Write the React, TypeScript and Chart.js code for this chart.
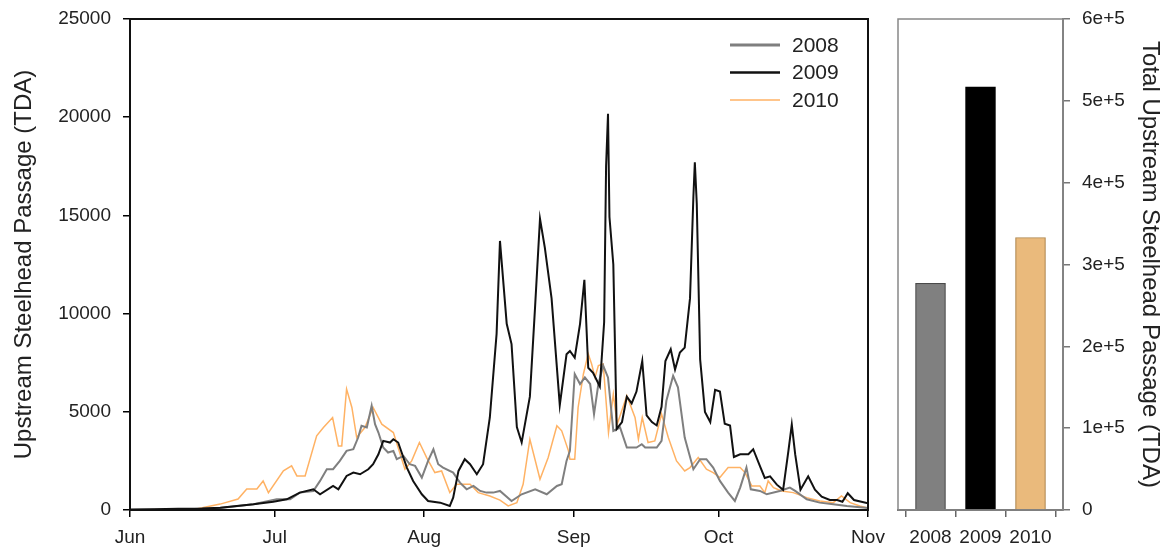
import React, { useEffect, useRef } from "react";
import { Chart, registerables } from "chart.js";

Chart.register(...registerables);

const FONT = '"Liberation Sans", Arial, Helvetica, sans-serif';

// Month ticks (day index from June 1)
const monthTicks = [0, 30, 61, 92, 122, 153];
const monthLabels = ["Jun", "Jul", "Aug", "Sep", "Oct", "Nov"];

// Daily passage, x = day since June 1
const days2008 = [0, 6, 12, 18.7, 25.6, 30.4, 33.2, 35.2, 38.0, 39.4, 40.8, 42.1, 43.5, 44.9, 46.3, 47.3, 48.0, 49.1, 50.1, 50.8, 51.5, 52.5, 53.5, 54.6, 55.3, 56.7, 58.0, 59.1, 60.5, 61.8, 62.9, 63.9, 64.9, 67.0, 68.4, 69.8, 71.2, 72.6, 73.9, 75.3, 76.7, 79.1, 81.2, 84.0, 86.4, 88.5, 89.5, 90.5, 91.2, 92.2, 93.3, 94.3, 95.4, 96.2, 97.1, 98.1, 99.1, 100.2, 101.6, 103.0, 105.0, 106.1, 106.8, 109.2, 110.2, 111.2, 112.6, 113.6, 115.0, 116.8, 118.2, 119.5, 120.9, 122.3, 124.0, 125.4, 126.5, 127.8, 128.7, 130.6, 132.0, 134.7, 136.8, 137.9, 140.3, 143.0, 145.8, 148.6, 153];
const pass2008 = [0, 20, 40, 100, 290, 545, 545, 885, 970, 1480, 2075, 2075, 2500, 3010, 3095, 3690, 4285, 4200, 5305, 4370, 3945, 3180, 2925, 3010, 2585, 2755, 2330, 2245, 1650, 2500, 3095, 2330, 2160, 1905, 1395, 1055, 1225, 970, 885, 885, 970, 460, 800, 1055, 800, 1225, 1310, 2500, 3010, 6925, 6415, 6750, 6415, 4880, 6415, 7350, 6750, 4030, 4200, 3180, 3180, 3350, 3180, 3180, 3520, 5560, 6835, 6245, 3690, 2075, 2585, 2585, 2160, 1480, 885, 460, 1140, 2160, 1055, 970, 800, 970, 1140, 970, 545, 375, 290, 205, 100];

const days2009 = [0, 5, 10, 15, 18.7, 25.6, 29.7, 32.5, 35.2, 38.0, 39.4, 42.1, 43.2, 44.9, 46.3, 47.7, 49.4, 50.4, 51.5, 52.5, 53.9, 54.6, 55.6, 57.4, 58.7, 60.5, 61.8, 64.3, 66.3, 67.0, 68.1, 69.4, 70.5, 71.9, 73.2, 74.6, 76.0, 76.7, 78.1, 79.1, 80.2, 81.2, 82.9, 84.0, 85.0, 86.0, 87.4, 89.1, 90.5, 91.2, 92.2, 93.3, 94.2, 95.0, 96.0, 97.4, 98.3, 98.7, 99.1, 99.4, 100.2, 100.9, 102.0, 103.0, 104.0, 105.0, 106.2, 107.1, 108.2, 109.2, 110.2, 111.0, 112.1, 113.0, 114.0, 115.0, 116.1, 116.8, 117.1, 117.5, 118.2, 119.2, 120.3, 121.3, 122.3, 123.3, 124.4, 125.2, 126.5, 128.2, 129.2, 130.6, 131.6, 132.7, 134.1, 135.4, 136.5, 137.2, 137.9, 139.0, 140.6, 142.0, 143.4, 145.1, 146.6, 147.7, 148.8, 150.1, 153];
const pass2009 = [20, 40, 60, 80, 120, 290, 425, 545, 885, 1055, 800, 1225, 1055, 1735, 1905, 1820, 2075, 2330, 2840, 3520, 3435, 3605, 3435, 2160, 1480, 800, 460, 375, 205, 630, 1990, 2585, 2330, 1820, 2330, 4710, 8965, 13700, 9480, 8445, 4220, 3440, 5770, 10430, 14830, 13360, 10775, 5340, 7930, 8100, 7755, 9480, 11720, 7240, 6980, 6290, 9570, 17500, 20180, 14920, 12500, 4130, 4480, 5770, 5425, 6030, 7585, 4820, 4480, 4305, 5255, 7585, 8185, 7150, 8015, 8270, 10775, 15950, 17710, 15605, 7670, 4995, 4480, 6115, 6030, 4390, 4305, 2700, 2840, 2840, 3095, 2235, 1630, 1715, 1290, 1030, 3010, 4350, 2840, 1030, 1715, 1030, 680, 510, 510, 420, 855, 510, 340];

const days2010 = [0, 8, 14, 18.7, 22.4, 24.2, 26.3, 27.6, 28.7, 31.8, 33.5, 34.6, 36.3, 38.7, 40.1, 42.0, 43.2, 43.9, 44.9, 46.0, 47.0, 48.7, 50.4, 52.2, 54.6, 57.0, 58.4, 60.0, 61.5, 63.2, 64.6, 66.3, 67.7, 70.5, 72.2, 74.6, 76.7, 78.4, 80.2, 81.5, 82.9, 85.0, 86.7, 88.5, 89.5, 90.9, 91.2, 92.2, 92.9, 94.0, 95.0, 95.7, 96.4, 97.1, 98.1, 99.2, 100.2, 101.0, 103.0, 104.7, 105.4, 106.2, 107.4, 108.8, 110.2, 111.6, 113.3, 115.0, 116.1, 117.8, 119.5, 120.9, 122.3, 124.0, 126.5, 127.5, 128.9, 130.6, 131.6, 132.3, 133.4, 135.1, 137.5, 140.3, 143.0, 145.8, 147.5, 149.3, 151.3, 153];
const pass2010 = [0, 20, 60, 300, 560, 1070, 1070, 1480, 885, 1990, 2245, 1735, 1735, 3775, 4200, 4710, 3265, 3265, 6160, 5220, 3690, 4200, 5220, 4370, 3945, 2075, 2500, 3435, 2670, 1905, 1990, 885, 1310, 1310, 885, 715, 500, 205, 375, 1310, 3605, 1565, 2670, 4285, 4030, 3010, 2585, 2585, 5220, 6925, 7945, 7435, 6750, 7350, 7435, 3945, 5900, 4370, 5815, 4710, 3605, 4710, 3435, 3520, 4880, 3690, 2500, 1990, 2160, 2670, 2075, 1905, 1650, 2160, 2160, 1905, 1225, 1225, 885, 1480, 1140, 970, 885, 630, 460, 375, 715, 375, 205, 100];

// Seasonal totals
const barYears = ["2008", "2009", "2010"];
const barTotals = [277000, 517000, 333000];

const seriesLabels = ["2008", "2009", "2010"];

const toPoints = (d: number[], v: number[]) => d.map((x, i) => ({ x, y: v[i] }));

const noPad = (s: any) => {
  s.paddingTop = 0;
  s.paddingBottom = 0;
  s.paddingLeft = 0;
  s.paddingRight = 0;
};

const framePlugin = (color: string, width: number) => ({
  id: "frame",
  afterDraw(chart: any) {
    const { ctx, chartArea: a } = chart;
    ctx.save();
    ctx.strokeStyle = color;
    ctx.lineWidth = width;
    ctx.strokeRect(a.left, a.top, a.right - a.left, a.bottom - a.top);
    ctx.restore();
  },
});

const legendPlugin = {
  id: "insideLegend",
  afterDraw(chart: any) {
    const { ctx, chartArea: a } = chart;
    const x0 = a.right - 138;
    ctx.save();
    ctx.font = `21px ${FONT}`;
    ctx.textBaseline = "middle";
    ctx.textAlign = "left";
    chart.data.datasets.forEach((ds: any, i: number) => {
      const y = a.top + 26 + i * 27.5;
      ctx.strokeStyle = ds.borderColor;
      ctx.lineWidth = ds.legendWidth;
      ctx.beginPath();
      ctx.moveTo(x0, y);
      ctx.lineTo(x0 + 50, y);
      ctx.stroke();
      ctx.fillStyle = "#222";
      ctx.fillText(ds.label, x0 + 62, y + 1);
    });
    ctx.restore();
  },
};

function LineChart() {
  const ref = useRef<HTMLCanvasElement>(null);
  useEffect(() => {
    if (!ref.current) return;
    const chart = new Chart(ref.current, {
      type: "line",
      data: {
        datasets: [
          { label: seriesLabels[0], data: toPoints(days2008, pass2008), borderColor: "#7f7f7f", borderWidth: 2, pointRadius: 0, tension: 0, order: 1, legendWidth: 3 } as any,
          { label: seriesLabels[1], data: toPoints(days2009, pass2009), borderColor: "#111111", borderWidth: 2, pointRadius: 0, tension: 0, order: 0, legendWidth: 2.5 } as any,
          { label: seriesLabels[2], data: toPoints(days2010, pass2010), borderColor: "#ffb264", borderWidth: 1.5, pointRadius: 0, tension: 0, order: 2, legendWidth: 1.5 } as any,
        ],
      },
      options: {
        animation: false,
        responsive: true,
        maintainAspectRatio: false,
        layout: { padding: { left: 0, right: 32, top: 19, bottom: 0 } },
        plugins: { legend: { display: false }, tooltip: { enabled: false } },
        scales: {
          x: {
            type: "linear",
            min: 0,
            max: 153,
            afterBuildTicks: (s: any) => {
              s.ticks = monthTicks.map((v) => ({ value: v }));
            },
            afterFit: (s: any) => {
              s.height = 42;
              noPad(s);
            },
            ticks: {
              autoSkip: false,
              maxRotation: 0,
              padding: 9,
              color: "#222",
              font: { family: FONT, size: 19 },
              callback: (v: any) => {
                const i = monthTicks.indexOf(Number(v));
                return i >= 0 ? monthLabels[i] : "";
              },
            },
            grid: { display: true, drawOnChartArea: false, drawTicks: true, tickLength: 7, color: "#000", lineWidth: 1.5 },
            border: { display: true, color: "#000", width: 2 },
          },
          y: {
            min: 0,
            max: 25000,
            afterFit: (s: any) => {
              s.width = 130;
              noPad(s);
            },
            ticks: {
              stepSize: 5000,
              padding: 12,
              color: "#222",
              font: { family: FONT, size: 19 },
              callback: (v: any) => String(v),
            },
            title: {
              display: true,
              text: "Upstream Steelhead Passage (TDA)",
              color: "#222",
              font: { family: FONT, size: 24 },
              padding: { top: 10, bottom: 0 },
            },
            grid: { display: true, drawOnChartArea: false, drawTicks: true, tickLength: 7, color: "#000", lineWidth: 1.5 },
            border: { display: true, color: "#000", width: 2 },
          },
        },
      } as any,
      plugins: [framePlugin("#111", 2), legendPlugin],
    });
    return () => chart.destroy();
  }, []);
  return <canvas ref={ref} />;
}

function BarChart() {
  const ref = useRef<HTMLCanvasElement>(null);
  useEffect(() => {
    if (!ref.current) return;
    const chart = new Chart(ref.current, {
      type: "bar",
      data: {
        datasets: [
          {
            data: barYears.map((_, i) => ({ x: i + 1, y: barTotals[i] })),
            backgroundColor: ["#808080", "#000000", "#eaba7c"],
            borderColor: ["#4a4a4a", "#000000", "#b08850"],
            borderWidth: 1.2,
            barThickness: 30,
          },
        ],
      },
      options: {
        animation: false,
        responsive: true,
        maintainAspectRatio: false,
        layout: { padding: { left: 13, right: 0, top: 19, bottom: 0 } },
        plugins: { legend: { display: false }, tooltip: { enabled: false } },
        scales: {
          x: {
            type: "linear",
            min: 0.35,
            max: 3.65,
            offset: false,
            afterBuildTicks: (s: any) => {
              s.ticks = barYears.map((_, i) => ({ value: i + 1 }));
            },
            afterFit: (s: any) => {
              s.height = 42;
              noPad(s);
            },
            ticks: {
              autoSkip: false,
              maxRotation: 0,
              padding: 9,
              color: "#222",
              font: { family: FONT, size: 19 },
              callback: (v: any) => barYears[Number(v) - 1] ?? "",
            },
            grid: { display: true, drawOnChartArea: false, drawTicks: true, tickLength: 7, color: "#666", lineWidth: 1.5 },
            border: { display: true, color: "#666", width: 2 },
          },
          y: {
            position: "right",
            min: 0,
            max: 600000,
            afterFit: (s: any) => {
              s.width = 108;
              noPad(s);
            },
            ticks: {
              stepSize: 100000,
              padding: 12,
              color: "#222",
              font: { family: FONT, size: 19 },
              callback: (v: any) => (Number(v) === 0 ? "0" : `${Number(v) / 100000}e+5`),
            },
            title: {
              display: true,
              text: "Total Upstream Steelhead Passage (TDA)",
              color: "#222",
              font: { family: FONT, size: 24 },
              padding: { top: 7, bottom: 0 },
            },
            grid: { display: true, drawOnChartArea: false, drawTicks: true, tickLength: 7, color: "#777", lineWidth: 1.5 },
            border: { display: true, color: "#777", width: 2 },
          },
        },
      } as any,
      plugins: [framePlugin("#888", 1.5)],
    });
    return () => chart.destroy();
  }, []);
  return <canvas ref={ref} />;
}

export default function App() {
  return (
    <div style={{ position: "fixed", left: 0, top: 0, width: 1171, height: 552, background: "#fff" }}>
      <div style={{ position: "absolute", left: 0, top: 0, width: 900, height: 552 }}>
        <LineChart />
      </div>
      <div style={{ position: "absolute", left: 885, top: 0, width: 286, height: 552 }}>
        <BarChart />
      </div>
    </div>
  );
}
